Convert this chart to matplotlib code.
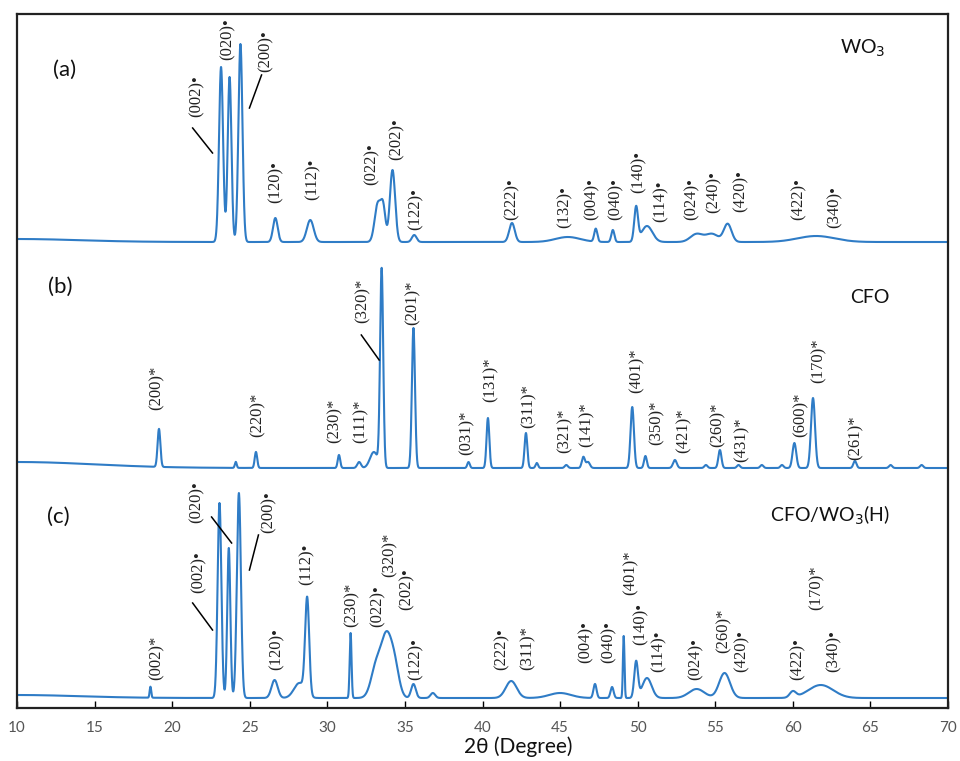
import numpy as np
import matplotlib
matplotlib.use("Agg")
import matplotlib.pyplot as plt

# ---------------- data ----------------
# peak positions (2θ), heights (a.u., above each pattern's baseline), widths (σ, degrees)
wo3_pos = [10.0, 23.15, 23.7, 24.4, 26.65, 28.9, 33.25, 33.6, 34.2, 35.6, 41.9, 45.5,
           47.3, 48.4, 49.9, 50.6, 53.8, 54.8, 55.8, 61.5]
wo3_int = [3, 175, 165, 198, 24, 22, 38, 32, 72, 7, 19, 5, 13, 12, 34, 16, 8, 8, 18, 6]
wo3_wid = [4.0, 0.13, 0.12, 0.13, 0.15, 0.22, 0.2, 0.15, 0.17, 0.15, 0.18, 0.8,
           0.1, 0.1, 0.12, 0.35, 0.4, 0.4, 0.25, 1.2]

cfo_pos = [10.0, 19.15, 24.1, 25.4, 30.75, 32.05, 33.0, 33.5, 35.55, 39.1, 40.35, 42.8,
           43.5, 45.4, 46.5, 46.8, 49.65, 50.5, 52.4, 54.4, 55.3, 56.5, 58.0, 59.3,
           60.1, 61.3, 64.0, 66.3, 68.3]
cfo_int = [6, 38, 6, 16, 13, 6, 16, 198, 140, 6, 50, 35, 5, 3, 11, 6, 61, 12, 8, 3,
           18, 3, 3, 3, 25, 70, 7, 3, 3]
cfo_wid = [5.0, 0.09, 0.06, 0.08, 0.08, 0.12, 0.25, 0.1, 0.1, 0.08, 0.09, 0.09,
           0.08, 0.1, 0.1, 0.12, 0.11, 0.09, 0.12, 0.1, 0.1, 0.1, 0.1, 0.1,
           0.12, 0.13, 0.1, 0.1, 0.1]

mix_pos = [10.0, 18.6, 23.05, 23.65, 24.3, 26.6, 28.2, 28.7, 31.5, 33.2, 33.8, 34.3,
           35.55, 36.8, 41.85, 45.0, 47.25, 48.35, 49.1, 49.9, 50.6, 53.8, 55.6,
           60.0, 61.8]
mix_int = [3, 11, 195, 150, 205, 18, 15, 96, 65, 35, 50, 35, 14, 5, 17, 5, 14, 11,
           62, 36, 20, 9, 25, 6, 13]
mix_wid = [4.0, 0.05, 0.12, 0.1, 0.13, 0.2, 0.35, 0.13, 0.06, 0.35, 0.3, 0.3,
           0.15, 0.15, 0.35, 0.7, 0.1, 0.1, 0.05, 0.12, 0.3, 0.5, 0.35, 0.2, 0.8]

# peak labels: (text, 2θ of label)
lab_a = ["(002)•", "(020)•", "(200)•", "(120)•", "(112)•", "(022)•", "(202)•", "(122)•",
         "(222)•", "(132)•", "(004)•", "(040)•", "(140)•", "(114)•", "(024)•", "(240)•",
         "(420)•", "(422)•", "(340)•"]
lab_a_x = [21.58, 23.57, 26.0, 26.66, 29.04, 32.83, 34.44, 35.72, 41.9, 45.3, 47.04,
           48.59, 50.06, 51.48, 53.47, 54.89, 56.62, 60.35, 62.67]
lab_b = ["(200)*", "(220)*", "(230)*", "(111)*", "(320)*", "(201)*", "(031)*", "(131)*",
         "(311)*", "(321)*", "(141)*", "(401)*", "(350)*", "(421)*", "(260)*", "(431)*",
         "(600)*", "(170)*", "(261)*"]
lab_b_x = [19.0, 25.5, 30.45, 32.12, 32.25, 35.53, 39.0, 40.55, 43.0, 45.3, 46.72,
           49.94, 51.22, 52.96, 55.14, 56.69, 60.48, 61.64, 64.02]
lab_c = ["(002)*", "(002)•", "(020)•", "(200)•", "(120)•", "(112)•", "(230)*", "(022)•",
         "(320)*", "(202)•", "(122)•", "(222)•", "(311)*", "(004)•", "(040)•", "(401)*",
         "(140)•", "(114)•", "(024)•", "(260)*", "(420)•", "(422)•", "(170)*", "(340)•"]
lab_c_x = [19.0, 21.7, 21.58, 26.2, 26.72, 28.65, 31.54, 33.22, 33.99, 35.08, 35.72,
           41.25, 42.93, 46.66, 48.14, 49.55, 50.19, 51.35, 53.73, 55.53, 56.69, 60.29,
           61.51, 62.6]

panel_tags = ["(a)", "(b)", "(c)"]
sample_names = ["WO$_3$", "CFO", "CFO/WO$_3$(H)"]
x_ticks = [10, 15, 20, 25, 30, 35, 40, 45, 50, 55, 60, 65, 70]

# ---------------- layout (positions, not data) ----------------
base = [466, 240, 10]              # vertical offsets of the three patterns
lab_a_y = [125, 182, 170, 39, 42, 57, 82, 12, 22, 14, 22, 22, 49, 20, 22, 29, 30, 22, 14]
lab_b_y = [58, 31, 25, 25, 145, 143, 13, 66, 40, 15, 21, 75, 23, 15, 21, 6, 31, 85, 8]
lab_c_y = [18, 105, 175, 165, 28, 113, 71, 71, 121, 88, 18, 28, 28, 35, 35, 103, 53,
           26, 18, 45, 26, 18, 88, 26]
leaders = [  # (panel, x0, y0, x1, y1) in 2θ / rel. intensity
    (0, 21.32, 114, 22.6, 89), (0, 25.76, 167, 24.98, 134),
    (1, 32.19, 133, 33.34, 108),
    (2, 21.32, 95, 22.6, 68), (2, 22.54, 181, 23.83, 155), (2, 25.56, 163, 24.98, 128),
]

def pattern(x, pos, inten, wid):
    y = np.zeros_like(x)
    for c, h, w in zip(pos, inten, wid):
        y += h * np.exp(-0.5 * ((x - c) / w) ** 2)
    return y

tt = np.linspace(10, 70, 6001)

fig = plt.figure(figsize=(9.6, 7.61), dpi=100)
ax = fig.add_axes([17 / 960, 1 - 708 / 761, (948 - 17) / 960, (708 - 14) / 761])

color = "#2f7cc6"
series = [(wo3_pos, wo3_int, wo3_wid), (cfo_pos, cfo_int, cfo_wid), (mix_pos, mix_int, mix_wid)]
for (p, h, w), b in zip(series, base):
    ax.plot(tt, b + pattern(tt, p, h, w), color=color, lw=1.5, solid_joinstyle="round")

serif = ["Liberation Serif", "DejaVu Serif"]
for labs, lx, ly, b in [(lab_a, lab_a_x, lab_a_y, base[0]),
                        (lab_b, lab_b_x, lab_b_y, base[1]),
                        (lab_c, lab_c_x, lab_c_y, base[2])]:
    for t, x, y in zip(labs, lx, ly):
        ax.text(x, b + y, t, rotation=90, ha="center", va="bottom",
                fontsize=12, family=serif, color="#222222")

for pnl, x0, y0, x1, y1 in leaders:
    ax.plot([x0, x1], [base[pnl] + y0, base[pnl] + y1], color="black", lw=1.1)

sans = ["Lato", "DejaVu Sans"]
tag_pos = [(13.09, 638), (12.77, 421), (12.64, 191)]
for t, (x, y) in zip(panel_tags, tag_pos):
    ax.text(x, y, t, fontsize=16, family=sans, ha="center", va="center", color="#111111")
name_pos = [(64.53, 660), (64.98, 411), (62.4, 193)]
for t, (x, y) in zip(sample_names, name_pos):
    ax.text(x, y, t, fontsize=14, family=sans, ha="center", va="center", color="#111111")

ax.set_xlim(10, 70)
ax.set_ylim(0, 694)
ax.set_xticks(x_ticks)
ax.set_xticklabels([str(v) for v in x_ticks], family=sans, fontsize=11, color="#555555")
ax.tick_params(axis="x", direction="in", length=5, width=1, pad=9, colors="black",
               labelcolor="#555555")
ax.set_yticks([])
for s in ax.spines.values():
    s.set_linewidth(1.6)
    s.set_color("#222222")

fig.text(518 / 960, 1 - 747 / 761, "2θ (Degree)", ha="center", va="center",
         fontsize=15, family=sans, color="#111111")

fig.savefig("out.png", dpi=100)
